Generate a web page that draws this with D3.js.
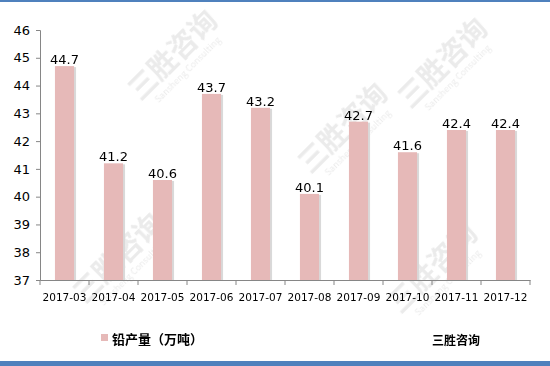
<!DOCTYPE html>
<html>
<head>
<meta charset="utf-8">
<script src="https://cdn.jsdelivr.net/npm/d3@7"></script>
<style>
  body { margin: 0; background: #fff; }
  svg { display: block; font-family: "Noto Sans CJK SC", "DejaVu Sans", sans-serif; }
</style>
</head>
<body>
<div id="chart"></div>
<script>
// 数据
const months = ["2017-03", "2017-04", "2017-05", "2017-06", "2017-07",
                "2017-08", "2017-09", "2017-10", "2017-11", "2017-12"];
const output = [44.7, 41.2, 40.6, 43.7, 43.2, 40.1, 42.7, 41.6, 42.4, 42.4];
const yTicks = [37, 38, 39, 40, 41, 42, 43, 44, 45, 46];
const seriesName = "铅产量（万吨）";
const brand = "三胜咨询";

const width = 550, height = 366;
const margin = { top: 30, right: 20, bottom: 86, left: 40 };

const svg = d3.select("#chart").append("svg")
    .attr("width", width)
    .attr("height", height);

// 边框线
svg.append("rect").attr("x", 0).attr("y", 0).attr("width", width).attr("height", 2)
    .attr("fill", "#4f81bd");
svg.append("rect").attr("x", 0).attr("y", 361).attr("width", width).attr("height", 5)
    .attr("fill", "#4f81bd");

// 水印
const wm = svg.append("g").attr("opacity", 0.12);
[[180, 62], [450, 70], [350, 135], [125, 265], [440, 275]].forEach(([x, y]) => {
    const g = wm.append("g").attr("transform", `translate(${x},${y}) rotate(-45)`);
    g.append("text").attr("x", 0).attr("y", 0)
        .attr("font-size", 28).attr("font-weight", "bold").attr("fill", "#555")
        .attr("text-anchor", "middle").text(brand);
    g.append("text").attr("x", 0).attr("y", 14)
        .attr("font-size", 9).attr("fill", "#555")
        .attr("text-anchor", "middle").text("Sansheng Consulting");
});

const x = d3.scaleBand()
    .domain(months)
    .range([margin.left, width - margin.right])
    .paddingInner(0.61)
    .paddingOuter(0.305);

const band = d3.scaleBand().domain(months).range([margin.left, width - margin.right]);

const y = d3.scaleLinear()
    .domain([37, 46])
    .range([height - margin.bottom, margin.top]);

// y 轴
const yAxis = svg.append("g")
    .attr("transform", `translate(${margin.left},0)`)
    .call(d3.axisLeft(y).tickValues(yTicks).tickSize(4).tickPadding(6));
yAxis.select(".domain").attr("stroke", "#868686");
yAxis.selectAll(".tick line").attr("stroke", "#868686");
yAxis.selectAll("text").attr("font-size", 13).attr("fill", "#000")
    .attr("font-family", "DejaVu Sans, sans-serif");

// x 轴
const xAxis = svg.append("g")
    .attr("transform", `translate(0,${height - margin.bottom})`)
    .call(d3.axisBottom(band).tickSize(0).tickPadding(14));
xAxis.select(".domain").attr("stroke", "#868686");
xAxis.selectAll("text").attr("font-size", 10.5).attr("fill", "#000")
    .attr("font-family", "DejaVu Sans, sans-serif");
// 刻度线放在类别边界
svg.append("g").selectAll("line")
    .data(months.concat(["end"]))
    .join("line")
    .attr("x1", (d, i) => margin.left + i * band.bandwidth())
    .attr("x2", (d, i) => margin.left + i * band.bandwidth())
    .attr("y1", height - margin.bottom)
    .attr("y2", height - margin.bottom + 5)
    .attr("stroke", "#868686");

// 柱子阴影
svg.append("g").selectAll("rect")
    .data(output)
    .join("rect")
    .attr("x", (d, i) => x(months[i]) + 2)
    .attr("y", d => y(d) + 1)
    .attr("width", x.bandwidth())
    .attr("height", d => y(37) - y(d) - 1)
    .attr("fill", "#d9d9d9");

// 柱子
svg.append("g").selectAll("rect")
    .data(output)
    .join("rect")
    .attr("x", (d, i) => x(months[i]))
    .attr("y", d => y(d))
    .attr("width", x.bandwidth())
    .attr("height", d => y(37) - y(d))
    .attr("fill", "#e6b9b8");

// 数值标签
svg.append("g").selectAll("text")
    .data(output)
    .join("text")
    .attr("x", (d, i) => x(months[i]) + x.bandwidth() / 2)
    .attr("y", d => y(d) - 2)
    .attr("text-anchor", "middle")
    .attr("font-size", 13)
    .attr("font-family", "DejaVu Sans, sans-serif")
    .attr("fill", "#000")
    .text(d => d.toFixed(1));

// 图例
svg.append("rect").attr("x", 101).attr("y", 334).attr("width", 7).attr("height", 7)
    .attr("fill", "#e6b9b8");
svg.append("text").attr("x", 112).attr("y", 344)
    .attr("font-size", 13).attr("font-weight", "bold").attr("fill", "#000")
    .text(seriesName);

svg.append("text").attr("x", 432).attr("y", 345)
    .attr("font-size", 12).attr("font-weight", "bold").attr("fill", "#000")
    .text(brand);
</script>
</body>
</html>
